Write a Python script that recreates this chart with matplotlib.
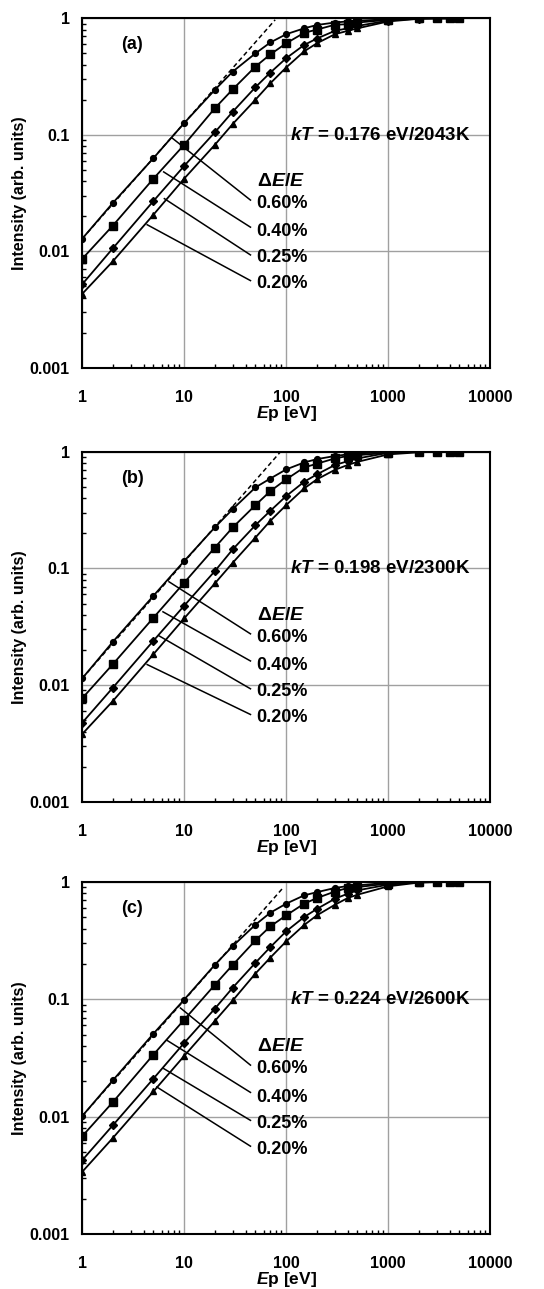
import numpy as np
import matplotlib.pyplot as plt
from matplotlib.ticker import LogLocator, FixedLocator, FixedFormatter, NullFormatter

plt.rcParams['font.family'] = ['Liberation Sans', 'DejaVu Sans']
plt.rcParams['font.weight'] = 'bold'
plt.rcParams['axes.labelweight'] = 'bold'
plt.rcParams['mathtext.fontset'] = 'custom'
plt.rcParams['mathtext.it'] = 'Liberation Sans:italic:bold'
plt.rcParams['mathtext.rm'] = 'Liberation Sans:bold'

# primary energy [eV]
Ep = [1, 2, 5, 10, 20, 30, 50, 70, 100, 150, 200, 300, 400, 500, 1000, 2000, 3000, 4000, 5000]

# panel (a) kT = 0.176 eV
a_060 = [0.0128, 0.026, 0.063, 0.126, 0.243, 0.349, 0.50, 0.62, 0.73, 0.82, 0.876, 0.92, 0.94, 0.955, 0.98, 1.0, 1.0, 1.0, 1.0]
a_040 = [0.0086, 0.0166, 0.042, 0.082, 0.169, 0.246, 0.385, 0.49, 0.61, 0.75, 0.80, 0.88, 0.89, 0.92, 0.97, 1.0, 1.0, 1.0, 1.0]
a_025 = [0.0052, 0.0106, 0.027, 0.054, 0.105, 0.158, 0.256, 0.342, 0.454, 0.59, 0.67, 0.78, 0.82, 0.86, 0.955, 0.995, 1.0, 1.0, 1.0]
a_020 = [0.0043, 0.0082, 0.0206, 0.042, 0.082, 0.124, 0.20, 0.277, 0.378, 0.52, 0.61, 0.73, 0.78, 0.82, 0.94, 0.99, 1.0, 1.0, 1.0]
a_dash_x = [1, 78]
a_dash_y = [0.0128, 0.97]

# panel (b) kT = 0.198 eV
b_060 = [0.0114, 0.0235, 0.0583, 0.1156, 0.225, 0.323, 0.495, 0.59, 0.706, 0.81, 0.865, 0.92, 0.95, 0.97, 0.99, 1.0, 1.0, 1.0, 1.0]
b_040 = [0.0077, 0.0151, 0.0378, 0.0754, 0.151, 0.225, 0.349, 0.46, 0.58, 0.734, 0.79, 0.877, 0.92, 0.936, 0.98, 1.0, 1.0, 1.0, 1.0]
b_025 = [0.00475, 0.0095, 0.024, 0.0479, 0.0949, 0.146, 0.235, 0.312, 0.417, 0.553, 0.64, 0.77, 0.83, 0.877, 0.98, 1.0, 1.0, 1.0, 1.0]
b_020 = [0.0038, 0.0073, 0.0184, 0.0373, 0.0744, 0.112, 0.184, 0.256, 0.349, 0.485, 0.58, 0.70, 0.77, 0.82, 0.95, 0.99, 1.0, 1.0, 1.0]
b_dash_x = [1, 88]
b_dash_y = [0.0114, 1.0]

# panel (c) kT = 0.224 eV
c_060 = [0.0101, 0.0204, 0.051, 0.0994, 0.197, 0.285, 0.433, 0.548, 0.654, 0.77, 0.82, 0.89, 0.925, 0.937, 0.987, 1.0, 1.0, 1.0, 1.0]
c_040 = [0.0068, 0.0133, 0.0338, 0.067, 0.133, 0.197, 0.318, 0.419, 0.52, 0.654, 0.73, 0.83, 0.89, 0.906, 0.97, 1.0, 1.0, 1.0, 1.0]
c_025 = [0.00425, 0.00844, 0.0211, 0.0425, 0.0833, 0.126, 0.205, 0.279, 0.38, 0.503, 0.59, 0.72, 0.795, 0.85, 0.95, 0.995, 1.0, 1.0, 1.0]
c_020 = [0.00338, 0.00658, 0.0164, 0.0329, 0.0654, 0.098, 0.166, 0.227, 0.312, 0.43, 0.52, 0.64, 0.73, 0.78, 0.92, 0.99, 1.0, 1.0, 1.0]
c_dash_x = [1, 95]
c_dash_y = [0.0101, 0.91]

res_labels = ['0.60%', '0.40%', '0.25%', '0.20%']
markers = ['o', 's', 'D', '^']
msizes = [4.2, 5.8, 3.6, 4.8]

# leader lines: start point on curve, end point at label
a_lead_start = [(7.6, 0.094), (6.3, 0.048), (6.4, 0.0283), (4.34, 0.0169)]
b_lead_start = [(7.1, 0.0769), (6.2, 0.0425), (5.65, 0.0265), (4.34, 0.015)]
c_lead_start = [(9.2, 0.0844), (6.8, 0.0447), (6.3, 0.0257), (5.4, 0.0179)]
lead_end_y = [0.0275, 0.0161, 0.0093, 0.0056]
label_y = [0.0256, 0.0147, 0.0088, 0.0053]

kT_texts = ['0.176 eV/2043K', '0.198 eV/2300K', '0.224 eV/2600K']
panel_names = ['(a)', '(b)', '(c)']

panels = [
    ([a_060, a_040, a_025, a_020], a_dash_x, a_dash_y, a_lead_start),
    ([b_060, b_040, b_025, b_020], b_dash_x, b_dash_y, b_lead_start),
    ([c_060, c_040, c_025, c_020], c_dash_x, c_dash_y, c_lead_start),
]

axes_pos = [
    [0.151, 0.7147, 0.75, 0.2711],
    [0.151, 0.378, 0.75, 0.2715],
    [0.151, 0.0427, 0.75, 0.273],
]

fig = plt.figure(figsize=(5.44, 12.89), dpi=100)

for i, (series, dx, dy, lead) in enumerate(panels):
    ax = fig.add_axes(axes_pos[i])
    ax.set_xscale('log')
    ax.set_yscale('log')
    ax.set_xlim(1, 10000)
    ax.set_ylim(0.001, 1)

    ax.grid(True, which='major', color='#a0a0a0', linewidth=1.0)
    ax.set_axisbelow(True)

    ax.plot(dx, dy, color='black', linestyle=(0, (3, 2)), linewidth=1.1)
    for s, m, ms in zip(series, markers, msizes):
        ax.plot(Ep, s, color='black', linewidth=1.3, marker=m, markersize=ms)

    for (sx, sy), ey in zip(lead, lead_end_y):
        ax.plot([sx, 44.7], [sy, ey], color='black', linewidth=1.1)

    ax.text(52, 0.0395, r'$ΔE/E$', fontsize=14, va='center', ha='left')
    for lab, ly in zip(res_labels, label_y):
        ax.text(51, ly, lab, fontsize=13, va='center', ha='left')

    ax.text(108, 0.099, r'$kT$ = ' + kT_texts[i], fontsize=13.5, va='center', ha='left')
    ax.text(3.1, 0.59, panel_names[i], fontsize=13, va='center', ha='center')

    ax.xaxis.set_major_locator(FixedLocator([1, 10, 100, 1000, 10000]))
    ax.xaxis.set_major_formatter(FixedFormatter(['1', '10', '100', '1000', '10000']))
    ax.yaxis.set_major_locator(FixedLocator([0.001, 0.01, 0.1, 1]))
    ax.yaxis.set_major_formatter(FixedFormatter(['0.001', '0.01', '0.1', '1']))
    ax.xaxis.set_minor_locator(LogLocator(base=10, subs=np.arange(2, 10)))
    ax.yaxis.set_minor_locator(LogLocator(base=10, subs=np.arange(2, 10)))
    ax.xaxis.set_minor_formatter(NullFormatter())
    ax.yaxis.set_minor_formatter(NullFormatter())

    ax.tick_params(axis='x', which='major', direction='in', length=0, pad=16, labelsize=11.5)
    ax.tick_params(axis='y', which='major', direction='in', length=0, pad=9, labelsize=11.5)
    ax.tick_params(which='minor', direction='in', length=3, width=1)
    for sp in ax.spines.values():
        sp.set_linewidth(1.5)

    ax.set_xlabel(r'$E$p [eV]', fontsize=12.5, labelpad=-1)
    ax.set_ylabel('Intensity (arb. units)', fontsize=11.5, labelpad=2)

fig.savefig('out.png', dpi=100)
